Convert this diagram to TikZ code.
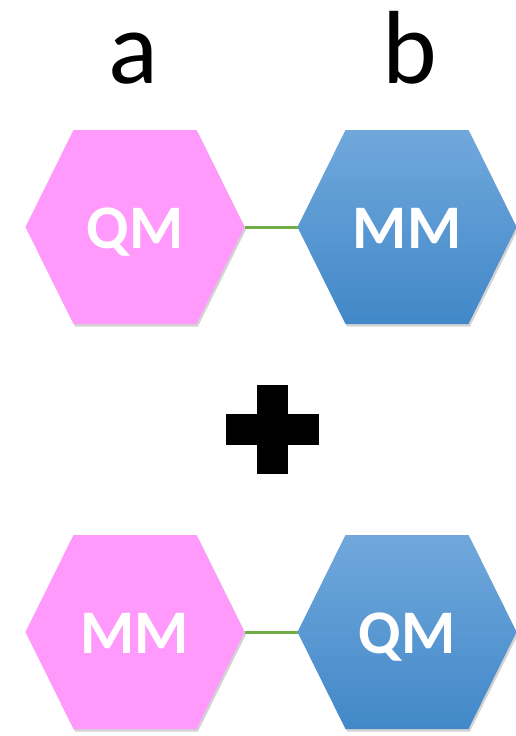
\documentclass[tikz,border=0pt]{standalone}
\usepackage{fontspec}
\setmainfont{Carlito}
\usetikzlibrary{shadows,backgrounds,calc}
\definecolor{hexpink}{RGB}{255,153,252}
\definecolor{bluetop}{RGB}{112,168,220}
\definecolor{bluebot}{RGB}{66,136,200}
\definecolor{linkgreen}{RGB}{112,173,71}
\begin{document}
\begin{tikzpicture}[x=1pt,y=-1pt,
  hexbox/.style={minimum width=219pt,minimum height=194pt,inner sep=0pt,outer sep=0pt},
  hexshadow/.style={drop shadow={opacity=0.35,shadow xshift=1.5pt,shadow yshift=-2.5pt}},
  pinkhex/.style={fill=hexpink,hexshadow},
  bluehex/.style={top color=bluetop,bottom color=bluebot,draw=none,hexshadow},
  hextext/.style={anchor=base,text=white,font=\fontsize{62}{62}\selectfont\bfseries,inner sep=0pt},
  coltext/.style={anchor=base,text=black,font=\fontsize{104}{104}\selectfont,inner sep=0pt},
  link/.style={draw=linkgreen,line width=3pt}]
\useasboundingbox (0,0) rectangle (516,736);

% column labels
\node[coltext] (la) at (133,83) {a};
\node[coltext] (lb) at (410,83) {b};

% hexagon boxes
\node[hexbox] (h1) at (135,227) {};
\node[hexbox] (h2) at (407,227) {};
\node[hexbox] (h3) at (135,632) {};
\node[hexbox] (h4) at (407,632) {};

\begin{pgfonlayer}{background}
\path[pinkhex] (h1.west) -- ([xshift=48pt]h1.north west) -- ([xshift=-48pt]h1.north east) -- (h1.east) -- ([xshift=-48pt]h1.south east) -- ([xshift=48pt]h1.south west) -- cycle;
\path[bluehex] (h2.west) -- ([xshift=48pt]h2.north west) -- ([xshift=-48pt]h2.north east) -- (h2.east) -- ([xshift=-48pt]h2.south east) -- ([xshift=48pt]h2.south west) -- cycle;
\path[pinkhex] (h3.west) -- ([xshift=48pt]h3.north west) -- ([xshift=-48pt]h3.north east) -- (h3.east) -- ([xshift=-48pt]h3.south east) -- ([xshift=48pt]h3.south west) -- cycle;
\path[bluehex] (h4.west) -- ([xshift=48pt]h4.north west) -- ([xshift=-48pt]h4.north east) -- (h4.east) -- ([xshift=-48pt]h4.south east) -- ([xshift=48pt]h4.south west) -- cycle;
\end{pgfonlayer}

% texts
\node[hextext] (t1) at (135,248) {QM};
\node[hextext] (t2) at (407,248) {MM};
\node[hextext] (t3) at (135,653) {MM};
\node[hextext] (t4) at (407,653) {QM};

% connectors
\draw[link] (h1.east) -- (h2.west);
\draw[link] (h3.east) -- (h4.west);

% plus sign
\fill[black] (257,385) rectangle (288,474);
\fill[black] (226,414) rectangle (319,445);
\end{tikzpicture}
\end{document}
